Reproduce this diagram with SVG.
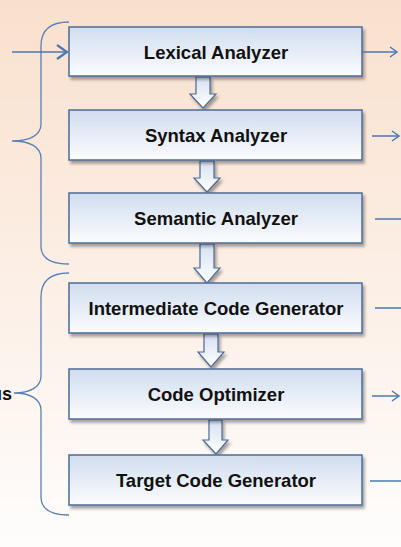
<svg xmlns="http://www.w3.org/2000/svg" width="401" height="547" viewBox="0 0 401 547">
<defs>
<linearGradient id="bg" x1="0" y1="0" x2="0" y2="1">
<stop offset="0" stop-color="#f9e0cd"/>
<stop offset="0.55" stop-color="#fcf0e7"/>
<stop offset="1" stop-color="#fefdfc"/>
</linearGradient>
<linearGradient id="box" x1="0" y1="0" x2="0" y2="1">
<stop offset="0" stop-color="#d0ddef"/>
<stop offset="1" stop-color="#fbfcfe"/>
</linearGradient>
<linearGradient id="barr" x1="0" y1="0" x2="0" y2="1">
<stop offset="0" stop-color="#d6e1f1"/>
<stop offset="1" stop-color="#ffffff"/>
</linearGradient>
<filter id="sh" x="-10%" y="-20%" width="130%" height="160%">
<feDropShadow dx="2" dy="3" stdDeviation="1.8" flood-color="#000" flood-opacity="0.35"/>
</filter>
<marker id="open" markerWidth="10" markerHeight="12" refX="8" refY="6" orient="auto" markerUnits="userSpaceOnUse">
<path d="M1,1 L8,6 L1,11" fill="none" stroke="#4a78b5" stroke-width="1.5"/>
</marker>
<marker id="inarrow" markerWidth="14" markerHeight="16" refX="11" refY="8" orient="auto" markerUnits="userSpaceOnUse">
<path d="M1,1 L11,8 L1,15" fill="none" stroke="#4a78b5" stroke-width="2.2"/>
</marker>
</defs>
<style>
.box{fill:url(#box);stroke:#4d6b98;stroke-width:1.5;filter:url(#sh)}
.lbl{font-family:"Liberation Sans",Arial,sans-serif;font-weight:bold;font-size:18.5px;fill:#111;text-anchor:middle}
.barr{fill:url(#barr);stroke:#4d6b98;stroke-width:1.2;filter:url(#sh)}
.conn{fill:none;stroke:#4a78b5;stroke-width:1.5}
.brace{fill:none;stroke:#5a80b8;stroke-width:1.3}
</style>
<rect width="401" height="547" fill="url(#bg)"/>

<g id="braces">
<path class="brace" d="M69,22 C50,22 41,31 41,46 L41,124 C41,135 30,141 12,141 C30,141 41,147 41,158 L41,246 C41,258 50,264 69,264"/>
<path class="brace" d="M69,273 C50,273 41,282 41,297 L41,376 C41,387 30,393 14,393 C30,393 41,399 41,410 L41,497 C41,509 50,515 69,515"/>
<text x="12" y="400" font-family="Liberation Sans,Arial,sans-serif" font-weight="bold" font-size="18" fill="#111" text-anchor="end">us</text>
</g>

<g id="block-arrows">
<path class="barr" d="M196,77 L210,77 L210,94 L216,94 L203,108 L190,94 L196,94 Z"/>
<path class="barr" d="M200,161 L214,161 L214,178 L220,178 L207,192 L194,178 L200,178 Z"/>
<path class="barr" d="M200,244 L214,244 L214,268 L220,268 L207,283 L194,268 L200,268 Z"/>
<path class="barr" d="M204,334 L218,334 L218,352 L224,352 L211,367 L198,352 L204,352 Z"/>
<path class="barr" d="M209,420 L222,420 L222,440 L228,440 L216,454 L203,440 L209,440 Z"/>
</g>

<g id="n1"><rect class="box" x="69" y="27" width="293" height="49"/><text class="lbl" x="216" y="58.5">Lexical Analyzer</text></g>
<g id="n2"><rect class="box" x="69" y="110" width="293" height="50"/><text class="lbl" x="216" y="142">Syntax Analyzer</text></g>
<g id="n3"><rect class="box" x="69" y="193" width="293" height="50"/><text class="lbl" x="216" y="225">Semantic Analyzer</text></g>
<g id="n4"><rect class="box" x="69" y="283" width="293" height="50"/><text class="lbl" x="216" y="315">Intermediate Code Generator</text></g>
<g id="n5"><rect class="box" x="69" y="369" width="293" height="50"/><text class="lbl" x="216" y="401">Code Optimizer</text></g>
<g id="n6"><rect class="box" x="69" y="455" width="293" height="50"/><text class="lbl" x="216" y="487">Target Code Generator</text></g>

<g id="connectors">
<path class="conn" d="M12,52 L67,52" stroke-width="2.2" marker-end="url(#inarrow)"/>
<path class="conn" d="M362,52 L397,52" marker-end="url(#open)"/>
<path class="conn" d="M372,136 L399,136" marker-end="url(#open)"/>
<path class="conn" d="M375,219 L401,219"/>
<path class="conn" d="M375,308 L401,308"/>
<path class="conn" d="M372,396 L399,396" marker-end="url(#open)"/>
<path class="conn" d="M370,481 L401,481"/>
</g>
</svg>
